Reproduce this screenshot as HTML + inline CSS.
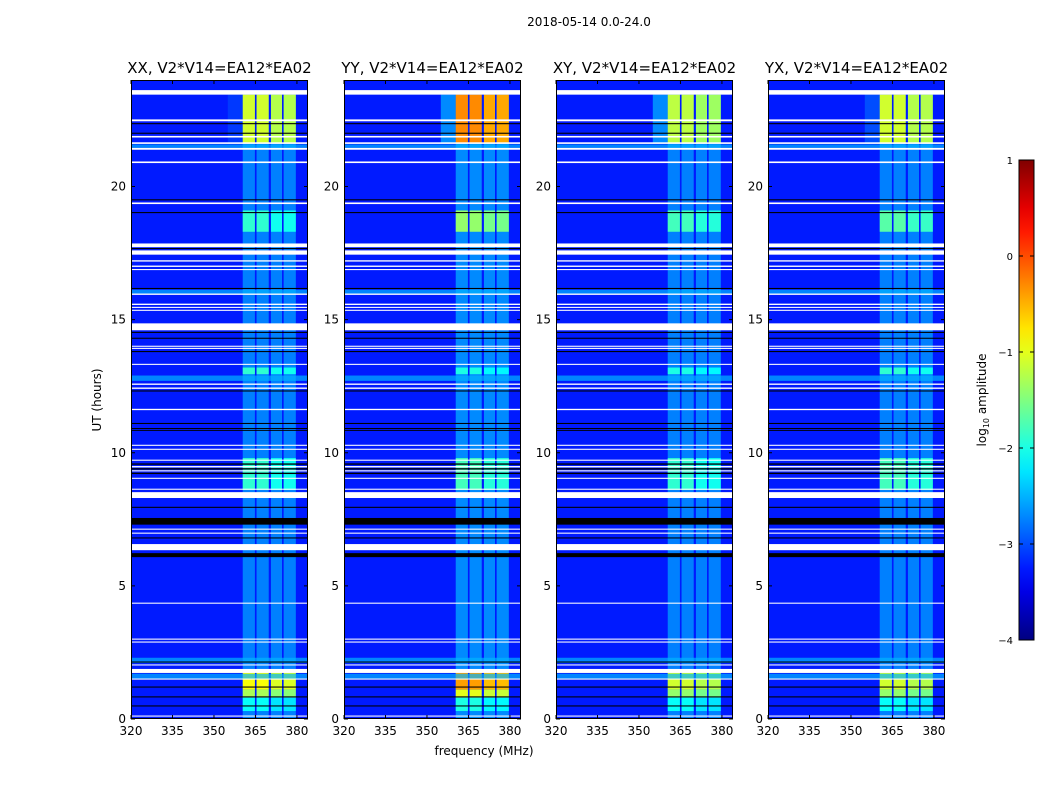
<!DOCTYPE html>
<html><head><meta charset="utf-8">
<style>
html,body{margin:0;padding:0;background:#fff;}
svg text{font-family:"DejaVu Sans","Liberation Sans",sans-serif;fill:#000;}
</style></head>
<body>
<svg id="fig" width="1050" height="800" viewBox="0 0 1050 800" xmlns="http://www.w3.org/2000/svg">
<text x="589" y="26" font-size="12" text-anchor="middle">2018-05-14 0.0-24.0</text>
<text x="484" y="755" font-size="12" text-anchor="middle">frequency (MHz)</text>
<text x="101" y="400" font-size="12" text-anchor="middle" transform="rotate(-90 101 400)">UT (hours)</text>
<g id="panels"></g>
<g id="cbar"></g>
</svg>
<script>
// ---------- data ----------
const pols = ['XX','YY','XY','YX'];
const panelTitles = ['XX, V2*V14=EA12*EA02','YY, V2*V14=EA12*EA02','XY, V2*V14=EA12*EA02','YX, V2*V14=EA12*EA02'];
const xTicks = [320,335,350,365,380];
const yTicks = [0,5,10,15,20];
const cbarTicks = [1,0,-1,-2,-3,-4];
const cbarTickLabels = ['1','0','\u22121','\u22122','\u22123','\u22124'];
const backgroundLevel = [-3.25,-3.25,-3.25,-3.25];
const bandBaseLevel = [-2.75,-2.7,-2.75,-2.75];
const subbands = [[360.4,364.8],[365.4,369.8],[370.6,374.6],[375.2,379.6]];
const brightSegments = [[21.65,23.45],[18.3,19.1],[12.95,13.2],[8.6,9.8],[1.1,1.8],[0.8,1.1],[0.3,0.8]];
const segLevelXX = [-1.1,-1.9,-1.9,-1.9,-0.9,-1.3,-2.1];
const segLevelYY = [-0.3,-1.4,-2.0,-1.8,-0.4,-1.0,-2.0];
const segLevelXY = [-1.2,-1.8,-2.0,-1.9,-1.1,-1.4,-2.1];
const segLevelYX = [-1.1,-1.7,-1.9,-1.8,-1.1,-1.4,-2.1];
const shoulder = [355,360.4,21.65,23.45];
const shoulderLevel = [-3.1,-2.7,-2.7,-3.0];
const cyanRows = [[21.45,21.58],[15.98,16.12],[12.7,12.9],[2.1,2.3],[1.5,1.7]];
const cyanLevel = -2.5;
const whiteFlags = [[23.45,23.62],[22.45,22.52],[21.84,21.9],[21.6,21.66],[21.38,21.45],[20.88,20.94],[19.34,19.4],
 [17.72,17.86],[17.44,17.6],[17.18,17.23],[16.98,17.03],[16.86,16.9],[15.93,15.98],[15.55,15.6],[15.44,15.48],[15.33,15.37],
 [14.6,14.86],[13.98,14.02],[13.9,13.94],[13.3,13.34],[12.55,12.6],[12.4,12.45],[11.6,11.65],[10.26,10.3],[10.11,10.15],[9.7,9.74],[9.45,9.5],[9.3,9.34],
 [9.02,9.06],[8.61,8.65],[8.3,8.52],[7.11,7.15],[6.96,7.0],[6.34,6.57],[4.33,4.37],[2.98,3.02],[2.87,2.91],[2.01,2.05],[1.73,1.88],[1.48,1.52],[0.09,0.13]];
const blackFlags = [[22.34,22.38],[21.98,22.02],[19.48,19.52],[19.0,19.04],[17.65,17.69],[16.15,16.19],[14.5,14.54],[14.28,14.32],[13.78,13.82],
 [12.3,12.34],[11.08,11.12],[10.9,10.93],[10.83,10.86],[9.55,9.6],[9.37,9.42],[9.2,9.25],[7.93,7.97],[7.3,7.55],[6.78,6.82],[6.08,6.23],[2.12,2.16],[1.18,1.22],[0.81,0.85],[0.47,0.51]];
// ---------- layout ----------
const panelX = [131,344,556,768], panelW = 177, plotTop = 80, plotBot = 719;
const fMin = 320, fMax = 384, tMin = 0, tMax = 24;
function xScale(p,f){return panelX[p] + (f-fMin)/(fMax-fMin)*panelW;}
function yScale(t){return plotBot - (t-tMin)/(tMax-tMin)*(plotBot-plotTop);}
function jet(v){
  let t=(v+4)/5; t=Math.max(0,Math.min(1,t));
  const c=x=>Math.round(255*Math.max(0,Math.min(1,x)));
  const r=c(1.5-Math.abs(4*t-3)), g=c(1.5-Math.abs(4*t-2)), b=c(1.5-Math.abs(4*t-1));
  return 'rgb('+r+','+g+','+b+')';
}
const NS='http://www.w3.org/2000/svg';
function mk(tag,attrs,parent){const e=document.createElementNS(NS,tag);for(const k in attrs)e.setAttribute(k,attrs[k]);parent.appendChild(e);return e;}
const segLevels=[segLevelXX,segLevelYY,segLevelXY,segLevelYX];
const panels=document.getElementById('panels');
for(let p=0;p<4;p++){
  const g=mk('g',{},panels);
  
  
  const x0=panelX[p];
  const bg=mk('rect',{x:x0,y:plotTop,width:panelW,height:plotBot-plotTop,fill:jet(backgroundLevel[p])},g);
  
  
  subbands.forEach((sb,i)=>{
    const r=mk('rect',{x:xScale(p,sb[0]),y:yScale(23.45),width:xScale(p,sb[1])-xScale(p,sb[0]),height:yScale(0)-yScale(23.45),fill:jet(bandBaseLevel[p])},g);
    
    
  });
  const sh=mk('rect',{x:xScale(p,shoulder[0]),y:yScale(shoulder[3]),width:xScale(p,shoulder[1])-xScale(p,shoulder[0]),height:yScale(shoulder[2])-yScale(shoulder[3]),fill:jet(shoulderLevel[p])},g);
  
  
  brightSegments.forEach((s,j)=>{
    subbands.forEach((sb,i)=>{
      const lv=segLevels[p][j]+(i===0||i===1?0:-0.15);
      const r=mk('rect',{x:xScale(p,sb[0]),y:yScale(s[1]),width:xScale(p,sb[1])-xScale(p,sb[0]),height:yScale(s[0])-yScale(s[1]),fill:jet(lv)},g);
      
      
    });
  });
  cyanRows.forEach(s=>{
    const r=mk('rect',{x:x0,y:yScale(s[1]),width:panelW,height:yScale(s[0])-yScale(s[1]),fill:jet(cyanLevel),opacity:0.7},g);
    
    
  });
  blackFlags.forEach(s=>{
    const r=mk('rect',{x:x0,y:yScale(s[1]),width:panelW,height:Math.max(1,yScale(s[0])-yScale(s[1])),fill:'#000'},g);
    
    
  });
  whiteFlags.forEach(s=>{
    const r=mk('rect',{x:x0,y:yScale(s[1]),width:panelW,height:Math.max(1,yScale(s[0])-yScale(s[1])),fill:'#fff'},g);
    
    
  });
  const fr=mk('rect',{x:x0+0.5,y:plotTop+0.5,width:panelW-1,height:plotBot-plotTop-1,fill:'none',stroke:'#000','stroke-width':1},g);
  
  
  const tt=mk('text',{x:x0+panelW/2,y:73,'font-size':15,'text-anchor':'middle'},g);
  tt.textContent=panelTitles[p];
  
  
  xTicks.forEach(f=>{
    const x=xScale(p,f);
    mk('line',{x1:x,x2:x,y1:plotBot,y2:plotBot-4,stroke:'#000'},g);
    mk('line',{x1:x,x2:x,y1:plotTop,y2:plotTop+4,stroke:'#000'},g);
    const t=mk('text',{x:x,y:plotBot+16,'font-size':12,'text-anchor':'middle'},g);
    t.textContent=f;
    
    
  });
  yTicks.forEach(v=>{
    const y=yScale(v);
    mk('line',{x1:x0,x2:x0+4,y1:y,y2:y,stroke:'#000'},g);
    mk('line',{x1:x0+panelW,x2:x0+panelW-4,y1:y,y2:y,stroke:'#000'},g);
    const t=mk('text',{x:x0-5,y:y+4,'font-size':12,'text-anchor':'end'},g);
    t.textContent=v;
    
    
  });
}
// colorbar
const cb=document.getElementById('cbar');
const cbX=1019,cbW=15,cbTop=160,cbBot=640;
function cbY(v){return cbBot-(v+4)/5*(cbBot-cbTop);}
const defs=mk('defs',{},cb);
const lg=mk('linearGradient',{id:'jetg',x1:0,y1:1,x2:0,y2:0},defs);
for(let i=0;i<=20;i++){mk('stop',{offset:i/20,'stop-color':jet(-4+5*i/20)},lg);}
const cbr=mk('rect',{x:cbX,y:cbTop,width:cbW,height:cbBot-cbTop,fill:'url(#jetg)',stroke:'#000'},cb);


cbarTicks.forEach((v,i)=>{
  const y=cbY(v);
  mk('line',{x1:cbX,x2:cbX+4,y1:y,y2:y,stroke:'#000'},cb);
  mk('line',{x1:cbX+cbW,x2:cbX+cbW-4,y1:y,y2:y,stroke:'#000'},cb);
  const t=mk('text',{x:cbX-6,y:y+4,'font-size':10,'text-anchor':'end'},cb);
  t.textContent=cbarTickLabels[i];
  
  
});
const cl=mk('text',{x:986,y:400,'font-size':12,'text-anchor':'middle',transform:'rotate(-90 986 400)'},cb);
cl.innerHTML='log<tspan font-size="8" dy="3">10</tspan><tspan dy="-3"> amplitude</tspan>';


</script>
</body></html>
